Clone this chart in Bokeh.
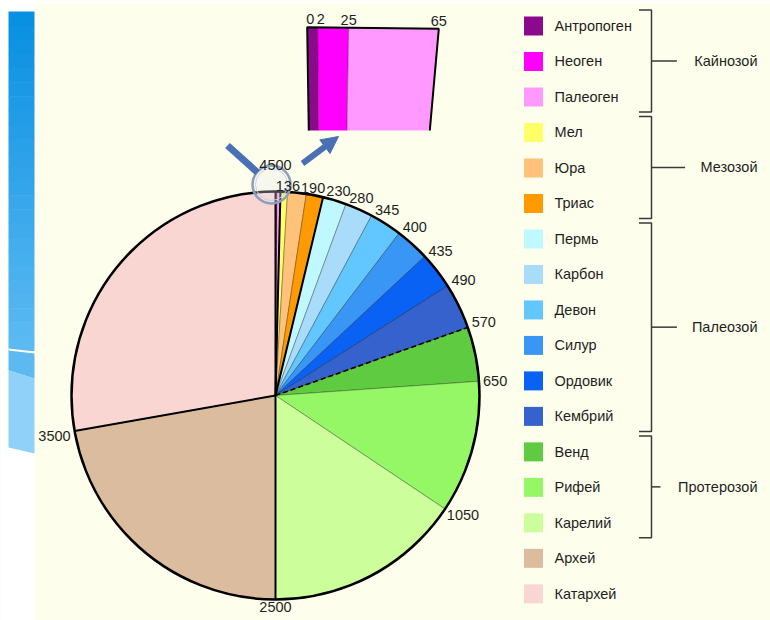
import math
from bokeh.plotting import figure
from bokeh.models import Range1d, Arrow, NormalHead
from bokeh.embed import file_html
from bokeh.resources import INLINE
from bokeh.core.properties import value

# ---------------- data ----------------
periods = ["Антропоген", "Неоген", "Палеоген", "Мел", "Юра", "Триас",
           "Пермь", "Карбон", "Девон", "Силур", "Ордовик", "Кембрий",
           "Венд", "Рифей", "Карелий", "Архей", "Катархей"]
colors = ["#8B0A8B", "#FF00FF", "#FF99FF", "#FFFF66", "#FFC27A", "#FF9A00",
          "#BFF8FF", "#A8DCFA", "#62C6FF", "#3A96F5", "#0A62F5", "#3562CC",
          "#5FCB40", "#96F766", "#CCFF9C", "#DCBC9E", "#FAD6D3"]
# age (million years) at the older end of each period
age_end = [2, 25, 65, 136, 190, 230, 280, 345, 400, 435, 490, 570, 650,
           1050, 2500, 3500, 4500]
# schematic angular size of every slice (degrees)
span_deg = [0.15, 0.25, 1.0, 2.0, 5.3, 4.8, 6.7, 7.9, 9.2, 9.7, 10.5, 13.0,
            15.5, 37.8, 56.2, 80.0, 100.0]
eras = ["Кайнозой", "Мезозой", "Палеозой", "Протерозой"]
era_first = [0, 3, 6, 12]
era_last = [2, 5, 11, 14]
# magnified view of the Cenozoic slices (share of the magnified strip, %)
inset_labels = ["0", "2", "25", "65"]
inset_share = [8.0, 23.5, 68.5]

# ---------------- styles / layout ----------------
BG = "#FEFEEC"
FONT = value("Liberation Sans")
FS = value("14.5px")
TXT = "#1e1e1e"
W, H = 770, 620


def Y(py):
    return H - py


p = figure(width=W, height=H, x_range=Range1d(0, W), y_range=Range1d(0, H),
           output_backend="svg", toolbar_location=None, min_border=0,
           x_axis_location=None, y_axis_location=None)
p.grid.visible = False
p.outline_line_color = None
p.background_fill_color = BG
p.border_fill_color = BG

# ---- slide decoration on the left ----
p.quad(left=0, right=34, top=Y(0), bottom=Y(H), fill_color="white", line_color=None)
p.quad(left=0, right=W, top=Y(0), bottom=Y(3), fill_color="white", line_color=None)
N = 24
c0, c1 = (10, 144, 226), (92, 186, 242)
for i in range(N):
    t = i / (N - 1)
    col = "#%02x%02x%02x" % tuple(int(c0[k] + (c1[k] - c0[k]) * t) for k in range(3))
    top = 11 + (350 - 11) * i / N
    bot = 11 + (350 - 11) * (i + 1) / N + 0.6
    p.quad(left=8, right=34, top=Y(top), bottom=Y(bot), fill_color=col, line_color=None)
p.patch(x=[8, 34, 34, 8], y=[Y(349), Y(352), Y(378), Y(370)], fill_color="#5CBAF1", line_color=None)
p.patch(x=[8, 34, 34, 8], y=[Y(370), Y(378), Y(453), Y(447)], fill_color="#8FD1F9", line_color=None)
p.segment(x0=8, y0=Y(349), x1=34, y1=Y(352), line_color="white", line_width=2)

# ---- pie ----
cx, cy, R = 275, Y(395), 204
cum = [0.0]
for s in span_deg:
    cum.append(cum[-1] + s)
starts = [math.pi / 2 - math.radians(c) for c in cum[1:]]
ends = [math.pi / 2 - math.radians(c) for c in cum[:-1]]
p.wedge(x=cx, y=cy, radius=R, start_angle=starts, end_angle=ends, direction="anticlock",
        fill_color=colors, line_color="black", line_alpha=0.3, line_width=1)

# era boundaries
for idx in [2, 5, 11, 14, 15, 16]:
    th = math.radians(cum[idx + 1])
    dash = "5 3" if idx == 11 else "solid"
    p.segment(x0=cx, y0=cy, x1=cx + R * math.sin(th), y1=cy + R * math.cos(th),
              line_color="black", line_width=1.6 if idx == 11 else 2, line_dash=dash)
p.circle(x=cx, y=cy, radius=R, fill_color=None, line_color="black", line_width=2.5)

# ---- magnifier and arrows ----
p.circle(x=271, y=Y(184), radius=19, fill_color="#E4EAF2", fill_alpha=0.3,
         line_color="#8D9FBA", line_width=2.5)
p.circle(x=271, y=Y(184), radius=16, fill_color=None, line_color="#C8D2E2", line_width=1)
p.segment(x0=227, y0=Y(145), x1=257, y1=Y(172), line_color="#4A6FB4", line_width=7)
p.add_layout(Arrow(x_start=302, y_start=Y(163), x_end=338, y_end=Y(136),
                   line_color="#4A6FB4", line_width=6,
                   end=NormalHead(size=17, fill_color="#4A6FB4", line_color="#4A6FB4")))

# boundary labels
CHAR_W = 8.1
labels = []
for a, c in zip(age_end[3:], cum[4:]):
    th = math.radians(c)
    if c >= 355:
        al, bl, r, dx = "center", "bottom", R + 22, 0
    elif c < 75:
        al, bl, r, dx = "left", "bottom", R + 1, 3
    elif c < 105:
        al, bl, r, dx = "left", "middle", R + 2, 2
    elif c < 170:
        al, bl, r, dx = "left", "top", R + 1, 1
    elif c < 190:
        al, bl, r, dx = "center", "top", R + 2, 0
    else:
        al, bl, r, dx = "right", "top", R + 1, -3
    labels.append(dict(x=cx + r * math.sin(th) + dx, y=cy + r * math.cos(th),
                       t=str(a), al=al, bl=bl))
# crowded labels near the top: push a label left so it ends before the next one
for i in range(len(labels) - 2, -1, -1):
    a, b = labels[i], labels[i + 1]
    if a["al"] == "left" and b["al"] == "left" and abs(a["y"] - b["y"]) < 6:
        right = a["x"] + CHAR_W * len(a["t"])
        if right > b["x"] - 1:
            a["x"] = b["x"] - 1 - CHAR_W * len(a["t"])
groups = {}
for lb in labels:
    g = groups.setdefault((lb["al"], lb["bl"]), {"x": [], "y": [], "t": []})
    g["x"].append(lb["x"])
    g["y"].append(lb["y"])
    g["t"].append(lb["t"])
for (al, bl), g in groups.items():
    p.text(x=g["x"], y=g["y"], text=g["t"], text_align=al, text_baseline=bl,
           text_font=FONT, text_font_size=FS, text_color=TXT)

# ---- inset: magnified Cenozoic strip (perspective quadrilateral) ----
TL, TR, BL, BR = (306.7, 26.7), (438.3, 28.3), (308.3, 130.0), (429.3, 130.0)


def top_pt(f):
    return TL[0] + (TR[0] - TL[0]) * f, TL[1] + (TR[1] - TL[1]) * f


def bot_pt(f):
    return BL[0] + (BR[0] - BL[0]) * f, BL[1] + (BR[1] - BL[1]) * f


tot = sum(inset_share)
fr = [0.0]
for s in inset_share:
    fr.append(fr[-1] + s / tot)
xs, ys = [], []
for f0, f1 in zip(fr[:-1], fr[1:]):
    pts = [top_pt(f0), top_pt(f1), bot_pt(f1), bot_pt(f0)]
    xs.append([q[0] for q in pts])
    ys.append([Y(q[1]) for q in pts])
p.patches(xs=xs, ys=ys, fill_color=colors[:3], line_color=None)
for f in fr[1:-1]:
    (x0, y0), (x1, y1) = top_pt(f), bot_pt(f)
    p.segment(x0=x0, y0=Y(y0), x1=x1, y1=Y(y1), line_color="black", line_alpha=0.35, line_width=1)
p.line(x=[BL[0], TL[0], TR[0], BR[0]], y=[Y(BL[1]), Y(TL[1]), Y(TR[1]), Y(BR[1])],
       line_color="black", line_width=2)
p.text(x=[top_pt(f)[0] + (3 if k < 2 else 0) for k, f in enumerate(fr)],
       y=[Y(top_pt(f)[1] - 3) for f in fr],
       text=inset_labels, text_align="center", text_baseline="bottom",
       text_font=FONT, text_font_size=FS, text_color=TXT)

# ---- legend ----
row_y = [25.5 + i * 35.49 for i in range(len(periods))]
p.rect(x=533, y=[Y(v) for v in row_y], width=19, height=19, fill_color=colors, line_color=None)
p.text(x=554, y=[Y(v) for v in row_y], text=periods, text_align="left", text_baseline="middle",
       text_font=FONT, text_font_size=FS, text_color=TXT)

# ---- era brackets ----
for name, f, l in zip(eras, era_first, era_last):
    top, bot = row_y[f] - 16, row_y[l] + 15
    mid = (top + bot) / 2
    tick_end = 757 - 8.2 * len(name) - 15
    p.multi_line(xs=[[638.5, 651, 651, 638.5], [651, tick_end]],
                 ys=[[Y(top), Y(top), Y(bot), Y(bot)], [Y(mid), Y(mid)]],
                 line_color="#3a3a3a", line_width=1.5)
    p.text(x=[757], y=[Y(mid)], text=[name], text_align="right", text_baseline="middle",
           text_font=FONT, text_font_size=FS, text_color=TXT)

open("out.html", "w").write(file_html(p, INLINE))
